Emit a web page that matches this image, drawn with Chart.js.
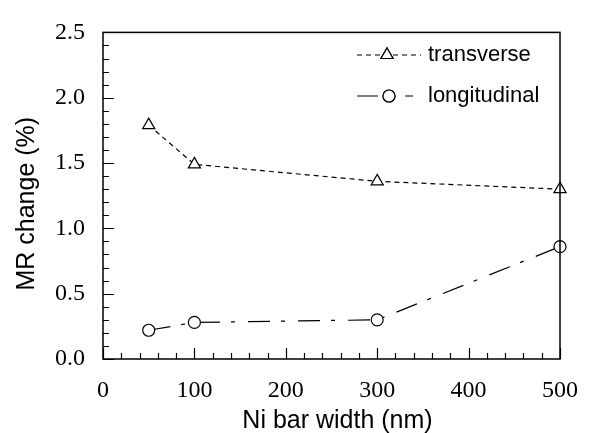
<!DOCTYPE html>
<html><head><meta charset="utf-8">
<script src="https://cdn.jsdelivr.net/npm/chart.js@4/dist/chart.umd.min.js"></script>
<style>html,body{margin:0;padding:0;background:#fff}#wrap{width:595px;height:433px}</style>
</head><body><div id="wrap"><canvas id="c" width="595" height="433"></canvas></div>
<script>
const widths = [50, 100, 300, 500];
const transverse = [1.79, 1.49, 1.36, 1.30];
const longitudinal = [0.22, 0.28, 0.30, 0.86];
const seriesNames = ['transverse', 'longitudinal'];
const xTicks = [0, 100, 200, 300, 400, 500];
const yTicks = [0.0, 0.5, 1.0, 1.5, 2.0, 2.5];
const xTitle = 'Ni bar width (nm)';
const yTitle = 'MR change (%)';

const SERIF = '"Liberation Serif", "Times New Roman", serif';
const SANS = '"Liberation Sans", Arial, sans-serif';
const DASH_T = [5, 4];
const DASH_L = [22, 11, 4, 13];

const frameTicks = {
  id: 'frameTicks',
  afterDatasetsDraw(chart) {
    const {ctx, chartArea: a, scales: {x, y}} = chart;
    ctx.save();
    ctx.strokeStyle = '#000';
    ctx.lineWidth = 1.5;
    ctx.setLineDash([]);
    ctx.strokeRect(a.left, a.top, a.right - a.left, a.bottom - a.top);
    ctx.lineWidth = 1.2;
    ctx.beginPath();
    for (let v = 0; v <= 500 + 1e-6; v += 20) {
      const px = Math.round(x.getPixelForValue(v)) + 0.5;
      const len = (Math.round(v) % 100 === 0) ? 11 : 6;
      ctx.moveTo(px, a.bottom); ctx.lineTo(px, a.bottom - len);
    }
    for (let i = 0; i <= 25; i++) {
      const v = i / 10;
      const py = Math.round(y.getPixelForValue(v)) + 0.5;
      const len = (i % 5 === 0) ? 11 : 6;
      ctx.moveTo(a.left, py); ctx.lineTo(a.left + len, py);
    }
    ctx.stroke();
    ctx.restore();
  },
  afterDraw(chart) {
    const {ctx, chartArea: a} = chart;
    ctx.save();
    // axis titles
    ctx.fillStyle = '#000';
    ctx.font = '25px ' + SANS;
    ctx.textAlign = 'center';
    ctx.textBaseline = 'middle';
    ctx.fillText(xTitle, (a.left + a.right) / 2 + 6, 421);
    ctx.save();
    ctx.translate(27, (a.top + a.bottom) / 2 + 8);
    ctx.rotate(-Math.PI / 2);
    ctx.fillText(yTitle, 0, 0);
    ctx.restore();
    // legend
    const items = [
      {name: seriesNames[0], dash: DASH_T, style: 'triangle', r: 7, y: 55, x0: 357, x1: 421, mx: 387},
      {name: seriesNames[1], dash: [21, 27, 8, 100], style: 'circle', r: 6, y: 96, x0: 357, x1: 421, mx: 389}
    ];
    items.forEach(it => {
      ctx.strokeStyle = '#000';
      ctx.lineWidth = 1.2;
      ctx.setLineDash(it.dash);
      ctx.beginPath();
      ctx.moveTo(it.x0, it.y); ctx.lineTo(it.x1, it.y);
      ctx.stroke();
      ctx.setLineDash([]);
      ctx.fillStyle = '#fff';
      Chart.helpers.drawPoint(ctx, {pointStyle: it.style, radius: it.r, borderWidth: 1.2}, it.mx, it.y);
      ctx.fill();
      ctx.stroke();
      ctx.fillStyle = '#000';
      ctx.font = '22px ' + SANS;
      ctx.textBaseline = 'middle';
      ctx.textAlign = 'left';
      ctx.fillText(it.name, 428, it.y);
    });
    ctx.restore();
  }
};

new Chart(document.getElementById('c'), {
  type: 'line',
  data: {
    datasets: [
      {
        label: seriesNames[0],
        data: widths.map((w, i) => ({x: w, y: transverse[i]})),
        borderColor: '#000', borderWidth: 1.2, borderDash: DASH_T,
        pointStyle: 'triangle', pointRadius: 7, pointBorderWidth: 1.2,
        pointBackgroundColor: '#fff', pointBorderColor: '#000',
        tension: 0, fill: false, clip: false
      },
      {
        label: seriesNames[1],
        data: widths.map((w, i) => ({x: w, y: longitudinal[i]})),
        borderColor: '#000', borderWidth: 1.2, borderDash: DASH_L,
        pointStyle: 'circle', pointRadius: 6, pointBorderWidth: 1.2,
        pointBackgroundColor: '#fff', pointBorderColor: '#000',
        tension: 0, fill: false, clip: false
      }
    ]
  },
  options: {
    responsive: false,
    animation: false,
    events: [],
    layout: {padding: {top: 19, right: 33, left: 0, bottom: 0}},
    plugins: {legend: {display: false}, tooltip: {enabled: false}},
    scales: {
      x: {
        type: 'linear', min: 0, max: 500,
        afterBuildTicks: s => { s.ticks = xTicks.map(v => ({value: v})); },
        afterFit: s => { s.height = 74; },
        grid: {display: false, drawTicks: false},
        border: {display: false},
        ticks: {color: '#000', font: {family: SERIF, size: 24}, padding: 17, maxRotation: 0,
          callback: v => String(v)},
        title: {display: false, text: xTitle}
      },
      y: {
        type: 'linear', min: 0, max: 2.5,
        afterBuildTicks: s => { s.ticks = yTicks.map(v => ({value: v})); },
        afterFit: s => { s.width = 103; },
        grid: {display: false, drawTicks: false},
        border: {display: false},
        ticks: {color: '#000', font: {family: SERIF, size: 24}, padding: 18,
          callback: v => Number(v).toFixed(1)},
        title: {display: false, text: yTitle}
      }
    }
  },
  plugins: [frameTicks]
});
</script></body></html>
